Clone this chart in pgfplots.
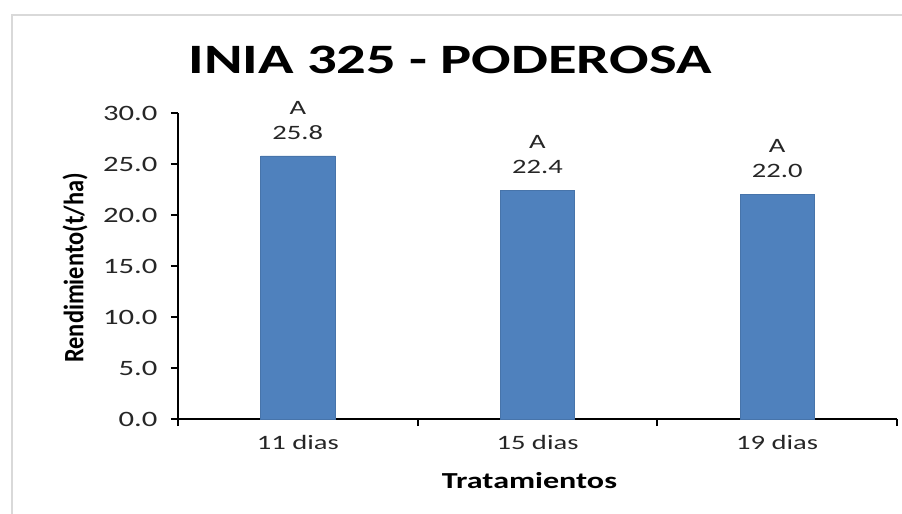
\documentclass[border=0pt]{standalone}
\usepackage{fontspec}
\setmainfont{Carlito}[FakeStretch=1.4]
\newfontfamily\ylabfont{Carlito}
\usepackage{pgfplots}
\pgfplotsset{compat=1.18}
\definecolor{barblue}{HTML}{4F81BD}
\definecolor{framegray}{HTML}{D9D9D9}
\definecolor{ticktext}{HTML}{262626}
\begin{document}
\begin{tikzpicture}
\useasboundingbox (-178bp,-95bp) rectangle (724bp,419bp);
\fill[white] (-178bp,-95bp) rectangle (724bp,419bp);
\draw[framegray, line width=1.5bp] (-166bp,-100bp) -- (-166bp,404bp) -- (730bp,404bp);
\node[font=\bfseries\fontsize{42}{50}\selectfont] at (272bp,359bp) {INIA 325 - PODEROSA};
\begin{axis}[
  at={(0,0)}, anchor=south west,
  scale only axis, width=719bp, height=306bp,
  xmin=-0.5, xmax=2.5, ymin=0, ymax=30,
  axis x line*=bottom, axis y line*=left,
  axis line style={line width=2.5bp, black, -},
  clip=false,
  ytick={0,5,...,30},
  yticklabel style={/pgf/number format/fixed, /pgf/number format/fixed zerofill, /pgf/number format/precision=1, /pgf/number format/assume math mode=true, font=\fontsize{22}{26}\selectfont, text=ticktext, xshift=-10bp},
  xtick={0,1,2},
  xticklabels={11 dias,15 dias,19 dias},
  xticklabel style={font=\fontsize{20.5}{24}\selectfont, text=ticktext, yshift=-6bp},
  minor xtick={-0.5,0.5,1.5,2.5},
  major x tick style={draw=none},
  minor x tick style={black, line width=2bp},
  y tick style={black, line width=2bp},
  tick align=outside,
  major tick length=7bp, minor tick length=7bp,
  xlabel={\bfseries Tratamientos},
  ylabel={\ylabfont\bfseries\fontsize{24.5}{28}\selectfont\scalebox{1}[1.15]{Rendimiento(t/ha)}},
  every axis x label/.style={at={(axis description cs:0.5,0)}, yshift=-62bp, xshift=-8bp, anchor=center, font=\fontsize{23}{27}\selectfont},
  every axis y label/.style={at={(axis description cs:0,0.5)}, xshift=-103bp, yshift=-2bp, anchor=center, rotate=90},
  nodes near coords={A\\[1bp]\pgfmathprintnumber[fixed,fixed zerofill,precision=1,assume math mode=true]{\pgfplotspointmeta}},
  every node near coord/.append style={align=center, font=\fontsize{20.5}{24}\selectfont, anchor=south, yshift=13bp, text=ticktext},
]
\addplot[ybar, bar width=0.31, fill=barblue, draw=barblue!90!black, line width=0.5bp] coordinates {(0,25.8) (1,22.4) (2,22.0)};
\end{axis}
\end{tikzpicture}
\end{document}
